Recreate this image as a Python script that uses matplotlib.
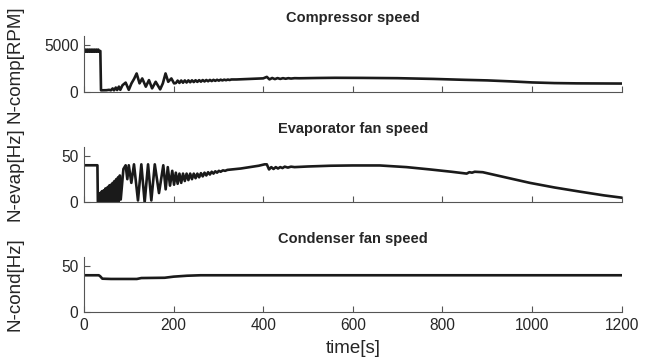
from matplotlib import pyplot as plt

plt.rcParams['font.family'] = ['Liberation Sans', 'DejaVu Sans']

# compressor speed [RPM], (time[s], value)
comp_pts = [(0, 4550), (2, 4320), (4, 4550), (6, 4320), (8, 4550), (10, 4320),
            (12, 4550), (14, 4320), (16, 4550), (18, 4320), (20, 4550), (22, 4320),
            (24, 4550), (26, 4320), (28, 4550), (30, 4320), (32, 4550), (34, 4320),
            (36.5, 4400), (38, 150), (50, 160), (56, 200), (60, 150), (64, 350),
            (67, 150), (71, 450), (74, 180), (78, 550), (81, 200), (86, 700),
            (93, 980), (100, 200), (106, 900), (112, 1400), (117.5, 1970),
            (124, 900), (130, 1430), (138, 540), (145, 1250), (152, 360),
            (160, 1070), (170, 250), (176, 900), (182, 1970), (188, 1070),
            (195, 1430), (201, 900), (205, 930), (209, 1198), (213, 949),
            (217, 1207), (221, 971), (225, 1216), (229, 993), (233, 1223),
            (237, 1015), (241, 1231), (245, 1038), (249, 1239), (253, 1061),
            (257, 1247), (261, 1083), (265, 1256), (269, 1105), (273, 1263),
            (277, 1127), (281, 1271), (285, 1150), (289, 1279), (293, 1173),
            (297, 1287), (301, 1195), (305, 1296), (309, 1217), (313, 1303),
            (317, 1239), (321, 1311), (325, 1262), (329, 1319), (340, 1320),
            (370, 1380), (400, 1440), (408, 1600), (414, 1330), (420, 1480),
            (426, 1360), (432, 1470), (438, 1380), (444, 1460), (450, 1400),
            (456, 1460), (462, 1420), (470, 1460), (480, 1450), (520, 1480),
            (560, 1500), (620, 1490), (700, 1460), (780, 1380), (850, 1280),
            (900, 1220), (950, 1120), (1000, 1000), (1050, 930), (1100, 900),
            (1150, 890), (1200, 880)]

# evaporator fan speed [Hz]
evap_pts = [(0, 40), (30, 40), (31, 0), (34, 0), (36, 10), (37.5, 0), (40, 12),
            (41.5, 0), (44, 13), (45.5, 0), (48, 15), (49.5, 0), (52, 16),
            (53.5, 0), (56, 18), (57.5, 0), (60, 19), (61.5, 0), (64, 21),
            (65.5, 0), (68, 23), (69.5, 0), (72, 25), (73.5, 0), (76, 27),
            (77.5, 1), (80, 29), (82, 3), (88, 36), (93, 40), (96.7, 25),
            (100, 40), (105.7, 21), (111.6, 41), (120.5, 2), (128, 41), (135.4, 0),
            (143, 41), (150.3, 2), (158, 41), (167.4, 10), (177, 40), (182.3, 14),
            (187, 38), (192, 18), (197, 34), (201, 19), (205, 32), (209, 20),
            (213, 31), (217, 21), (221, 31), (225, 23), (229, 31), (233, 24),
            (237, 31), (241, 25), (245, 31), (249, 26), (253, 31), (257, 27),
            (261, 31.5), (265, 28), (269, 32), (273, 29), (277, 32.5), (281, 30),
            (285, 33), (289, 31), (293, 33.5), (297, 32), (301, 34), (305, 33),
            (310, 34.5), (315, 34), (320, 35), (330, 35.5), (350, 36.5),
            (370, 38), (390, 39.5), (403, 41), (408, 41), (413, 35.5), (418, 38),
            (423, 36), (428, 38), (433, 36.5), (438, 38), (443, 37), (448, 38.5),
            (455, 37.5), (462, 38.5), (470, 38), (500, 38.7), (550, 39.5),
            (600, 39.8), (660, 39.8), (720, 38), (772, 35.5), (820, 33),
            (854, 31), (860, 32.5), (866, 32), (872, 33), (890, 32.5), (940, 27),
            (995, 21), (1050, 16), (1107, 11.5), (1160, 7.5), (1200, 5)]

# condenser fan speed [Hz]
cond_pts = [(0, 40), (33, 40), (36, 39), (41, 36.3), (60, 36), (118, 36),
            (128, 37), (180, 37.3), (200, 38.5), (230, 39.5), (260, 40), (1200, 40)]

titles = ["Compressor speed", "Evaporator fan speed", "Condenser fan speed"]
ylabels = ["N-comp[RPM]", "N-evap[Hz]", "N-cond[Hz]"]
ylims = [6000, 60, 60]
yticks = [[0, 5000], [0, 50], [0, 50]]
series = [comp_pts, evap_pts, cond_pts]
bottoms = [0.7474, 0.4427, 0.1397]

fig = plt.figure(figsize=(6.51, 3.63), dpi=100)
axc = '#262626'
for i in range(3):
  ax = fig.add_axes([0.129, bottoms[i], 0.826, 0.153])
  t = [p[0] for p in series[i]]
  v = [p[1] for p in series[i]]
  ax.plot(t, v, color='#1a1a1a', lw=1.9)
  ax.set_xlim(0, 1200)
  ax.set_ylim(0, ylims[i])
  ax.set_xticks([0, 200, 400, 600, 800, 1000, 1200])
  ax.set_yticks(yticks[i])
  ax.spines['top'].set_visible(False)
  ax.spines['right'].set_visible(False)
  for s in ['left', 'bottom']:
    ax.spines[s].set_color('#555555')
    ax.spines[s].set_linewidth(0.8)
  ax.tick_params(direction='in', length=4, width=0.8, color='#555555',
                 labelsize=11.2, labelcolor=axc, pad=4)
  if i < 2:
    ax.set_xticklabels([])
  else:
    ax.set_xlabel("time[s]", fontsize=13.5, color=axc, labelpad=5)
  ax.set_ylabel(ylabels[i], fontsize=13.5, color=axc)
  ax.yaxis.set_label_coords(-0.112, 0.5)
  ax.set_title(titles[i], fontsize=10.5, fontweight='bold', color=axc, pad=10)

fig.savefig("out.png", dpi=100)
